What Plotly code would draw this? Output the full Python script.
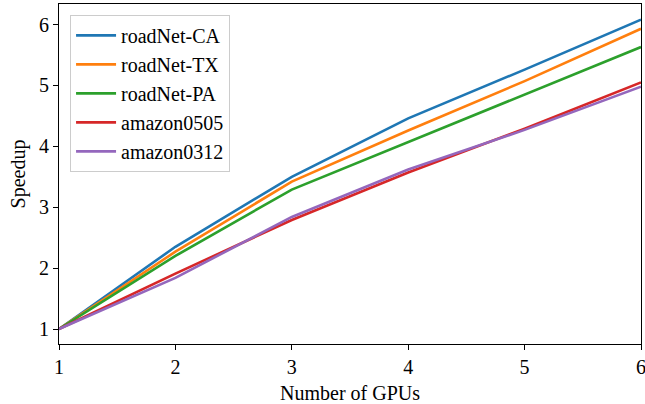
import plotly.graph_objects as go

gpus = [1, 2, 3, 4, 5, 6]
roadnet_ca = [1.0, 2.35, 3.50, 4.46, 5.26, 6.08]
roadnet_tx = [1.0, 2.27, 3.42, 4.26, 5.07, 5.93]
roadnet_pa = [1.0, 2.20, 3.29, 4.07, 4.85, 5.63]
amazon0505 = [1.0, 1.91, 2.79, 3.57, 4.29, 5.05]
amazon0312 = [1.0, 1.84, 2.84, 3.62, 4.27, 4.98]

series = [
    ("roadNet-CA", roadnet_ca, "#1f77b4"),
    ("roadNet-TX", roadnet_tx, "#ff7f0e"),
    ("roadNet-PA", roadnet_pa, "#2ca02c"),
    ("amazon0505", amazon0505, "#d62728"),
    ("amazon0312", amazon0312, "#9467bd"),
]

FONT = "Liberation Serif, Times New Roman, serif"
FS = 20

fig = go.Figure()
for name, ys, col in series:
    fig.add_trace(go.Scatter(x=gpus, y=ys, mode="lines", name=name, legendgroup=name,
                             line=dict(color=col, width=2.6)))

axis_common = dict(
    showgrid=False, zeroline=False, showline=True, linecolor="black",
    linewidth=1.2, mirror=True, ticks="outside", ticklen=5, tickwidth=1.2,
    tickcolor="black", tickfont=dict(family=FONT, size=FS, color="black"),
    automargin=False, ticklabeloverflow="allow",
)

fig.update_layout(
    width=645, height=404,
    margin=dict(l=59, r=4, t=4, b=60),
    paper_bgcolor="white", plot_bgcolor="white",
    font=dict(family=FONT, size=FS, color="black"),
    xaxis=dict(range=[1, 6], tickvals=[1, 2, 3, 4, 5, 6],
               title=dict(text="Number of GPUs", font=dict(family=FONT, size=FS), standoff=8),
               **axis_common),
    yaxis=dict(range=[0.754, 6.337], tickvals=[1, 2, 3, 4, 5, 6],
               title=dict(text="Speedup", font=dict(family=FONT, size=FS), standoff=7),
               **axis_common),
    legend=dict(x=0.019, y=0.968, xanchor="left", yanchor="top",
                bgcolor="rgba(255,255,255,0.8)", bordercolor="#cccccc", borderwidth=1,
                font=dict(family=FONT, size=FS), tracegroupgap=0, itemwidth=40),
    showlegend=True,
)

fig.write_html("out.html", config={"displayModeBar": False},
               post_script="document.body.style.margin='0px';")
